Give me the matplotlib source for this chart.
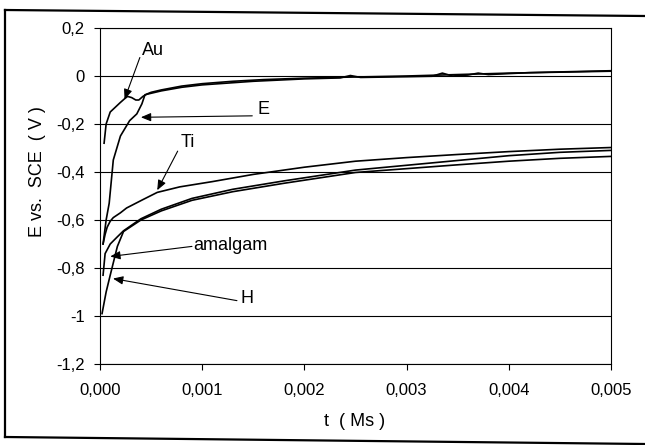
import matplotlib
matplotlib.use("Agg")
import matplotlib.pyplot as plt
from matplotlib.lines import Line2D
from matplotlib.ticker import FuncFormatter

plt.rcParams['font.family'] = ['Liberation Sans', 'DejaVu Sans']

# Potential transients (E vs. SCE, V) against time (Ms)
t_au = [0.00004, 0.00006, 0.00010, 0.00015, 0.00020, 0.00024, 0.00027, 0.00031,
        0.00035, 0.00038, 0.00042, 0.00046, 0.00050, 0.00060, 0.00080, 0.00100,
        0.00130, 0.00160, 0.00200, 0.00240, 0.00300, 0.00350, 0.00400, 0.00450, 0.00500]
e_au = [-0.28, -0.20, -0.15, -0.13, -0.11, -0.095, -0.085, -0.09,
        -0.10, -0.10, -0.085, -0.075, -0.068, -0.058, -0.042, -0.032,
        -0.022, -0.015, -0.009, -0.005, 0.000, 0.006, 0.012, 0.016, 0.020]

t_e = [0.00003, 0.00006, 0.00009, 0.00013, 0.00020, 0.00029, 0.00036, 0.00041,
       0.00044, 0.00050, 0.00060, 0.00080, 0.00100, 0.00150, 0.00200, 0.00235,
       0.00245, 0.00255, 0.00300, 0.00325, 0.00335, 0.00345, 0.00360, 0.00370,
       0.00380, 0.00420, 0.00460, 0.00500]
e_e = [-0.70, -0.60, -0.53, -0.35, -0.25, -0.186, -0.158, -0.116,
       -0.078, -0.072, -0.062, -0.047, -0.037, -0.022, -0.012, -0.008,
       0.002, -0.006, -0.003, -0.001, 0.012, 0.000, 0.004, 0.012, 0.006,
       0.014, 0.018, 0.022]

t_ti = [0.00003, 0.00005, 0.00007, 0.00010, 0.00013, 0.00020, 0.00026, 0.00042,
        0.00056, 0.00078, 0.00110, 0.00150, 0.00200, 0.00250, 0.00300, 0.00350,
        0.00400, 0.00450, 0.00500]
e_ti = [-0.70, -0.66, -0.63, -0.605, -0.59, -0.57, -0.55, -0.515,
        -0.485, -0.462, -0.440, -0.410, -0.380, -0.355, -0.340, -0.327,
        -0.315, -0.305, -0.298]

t_am = [0.00003, 0.00005, 0.00010, 0.00017, 0.00023, 0.00040, 0.00060, 0.00090,
        0.00130, 0.00180, 0.00250, 0.00300, 0.00350, 0.00400, 0.00450, 0.00500]
e_am = [-0.83, -0.74, -0.70, -0.67, -0.645, -0.595, -0.555, -0.510,
        -0.472, -0.437, -0.392, -0.372, -0.352, -0.332, -0.318, -0.310]

t_h = [0.00002, 0.00006, 0.00010, 0.00017, 0.00023, 0.00040, 0.00060, 0.00090,
       0.00130, 0.00180, 0.00250, 0.00300, 0.00350, 0.00400, 0.00450, 0.00500]
e_h = [-0.99, -0.90, -0.83, -0.71, -0.648, -0.600, -0.562, -0.518,
       -0.482, -0.447, -0.402, -0.386, -0.370, -0.355, -0.343, -0.335]

x_ticks = [0.000, 0.001, 0.002, 0.003, 0.004, 0.005]
y_ticks = [0.2, 0.0, -0.2, -0.4, -0.6, -0.8, -1.0, -1.2]

W, H = 645, 445
fig = plt.figure(figsize=(W / 100, H / 100), dpi=100)
fig.patch.set_facecolor('white')

ax_l, ax_r, ax_t, ax_b = 100, 611, 28, 364
ax = fig.add_axes([ax_l / W, 1 - ax_b / H, (ax_r - ax_l) / W, (ax_b - ax_t) / H])

for tt, ee in [(t_au, e_au), (t_e, e_e), (t_ti, e_ti), (t_am, e_am), (t_h, e_h)]:
    ax.plot(tt, ee, color='black', lw=1.2, solid_joinstyle='round', zorder=3)

ax.set_xlim(0, 0.005)
ax.set_ylim(-1.2, 0.2)
ax.set_xticks(x_ticks)
ax.set_yticks(y_ticks)


def x_fmt(v, _):
    return f"{v:.3f}".replace('.', ',')


def y_fmt(v, _):
    if abs(v) < 1e-9:
        return "0"
    s = f"{v:.1f}"
    if s.endswith('.0'):
        s = s[:-2]
    return s.replace('.', ',')


ax.xaxis.set_major_formatter(FuncFormatter(x_fmt))
ax.yaxis.set_major_formatter(FuncFormatter(y_fmt))
ax.tick_params(axis='x', direction='out', length=4, width=0.8, pad=10, labelsize=12)
ax.tick_params(axis='y', direction='out', length=4, width=0.8, pad=7, labelsize=12)
ax.grid(axis='y', color='black', lw=0.8)
ax.set_axisbelow(True)
for sp in ax.spines.values():
    sp.set_color('black')
    sp.set_linewidth(0.8)

fig.text(355 / W, 1 - 422 / H, "t  ( Ms )", ha='center', va='center', fontsize=13)
fig.text(37 / W, 1 - 172 / H, "E vs.  SCE  ( V )", ha='center', va='center',
         rotation=90, fontsize=13)

# Curve labels with pointer arrows (data coordinates)
arrow = dict(arrowstyle='-|>,head_length=0.6,head_width=0.25', color='black',
             lw=0.8, shrinkA=0, shrinkB=0)
labels = [
    ("Au", (0.00052, 0.106), 'center', (0.00039, 0.077), (0.00024, -0.097)),
    ("E", (0.00160, -0.141), 'center', (0.00149, -0.166), (0.00040, -0.172)),
    ("Ti", (0.00086, -0.279), 'center', (0.00076, -0.313), (0.00056, -0.476)),
    ("amalgam", (0.00091, -0.706), 'left', (0.00090, -0.710), (0.00010, -0.752)),
    ("H", (0.00144, -0.927), 'center', (0.00134, -0.936), (0.000127, -0.844)),
]
for txt, pos, ha, tail, tip in labels:
    ax.text(pos[0], pos[1], txt, ha=ha, va='center', fontsize=13, zorder=5)
    ax.annotate('', xy=tip, xytext=tail, arrowprops=arrow, zorder=4)

# Outer frame around the chart
def fline(x0, y0, x1, y1):
    fig.add_artist(Line2D([x0 / W, x1 / W], [1 - y0 / H, 1 - y1 / H],
                          color='black', lw=1.6, transform=fig.transFigure))

fline(5, 10, 645, 16)
fline(5, 437, 645, 444)
fline(5, 10, 5, 437)

fig.savefig("out.png", dpi=100, facecolor='white')
